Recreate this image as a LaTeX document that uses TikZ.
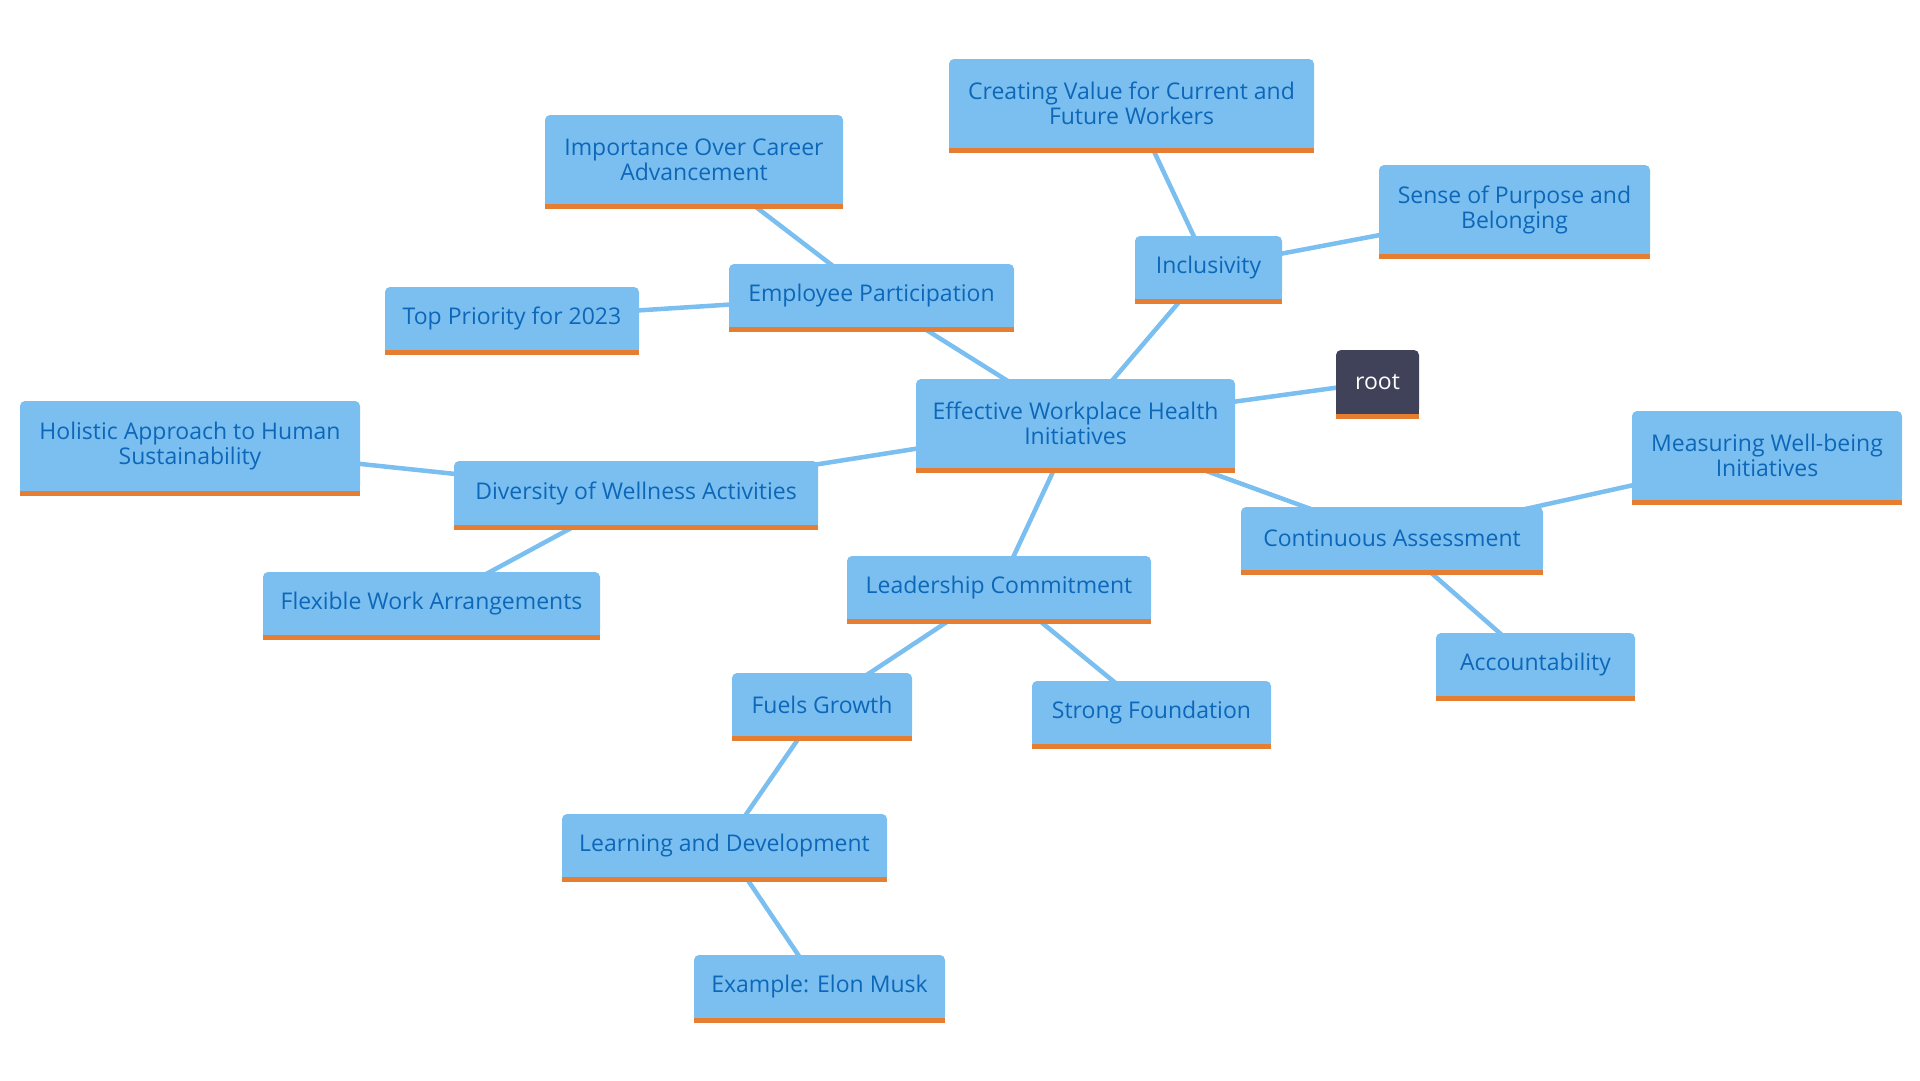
\documentclass[tikz,border=0pt]{standalone}
\usepackage{fontspec}
\setmainfont{Open Sans}
\usetikzlibrary{backgrounds}
\definecolor{boxblue}{HTML}{7BBFF0}
\definecolor{txtblue}{HTML}{0D67B8}
\definecolor{barorange}{HTML}{E57E30}
\definecolor{rootfill}{HTML}{3F4259}
\tikzset{
  box/.style={rectangle, fill=boxblue, rounded corners=5pt, text=txtblue, align=center,
    font=\fontsize{23}{25}\selectfont, inner sep=0pt},
  rootbox/.style={box, fill=rootfill, text=white},
  link/.style={draw=boxblue, line width=4.5pt},
}
\newcommand{\mybox}[7][box]{%
  \node[#1, minimum width=#4pt, minimum height={(#5-5)*1pt}] (#2) at ({(#3+#4/2)}, {(#6+(#5-5)/2)}) {#7};
  \fill[#1, rounded corners=0pt] ([yshift=6pt]#2.south west) rectangle (#2.south east);
  \fill[barorange] (#2.south west) rectangle ([yshift=-5pt]#2.south east);
}
\begin{document}
\begin{tikzpicture}[x=1pt,y=-1pt]
\useasboundingbox (0,0) rectangle (1920,1080);
% \mybox[style]{name}{left}{width}{height}{top}{text}
\mybox{creating}{949}{365}{94}{59}{Creating Value for Current and\\Future Workers}
\mybox{importance}{545}{298}{94}{115}{Importance Over Career\\Advancement}
\mybox{sense}{1379}{271}{94}{165}{Sense of Purpose and\\Belonging}
\mybox{inclusivity}{1135}{147}{68}{236}{Inclusivity}
\mybox{employee}{729}{285}{68}{264}{Employee Participation}
\mybox{toppriority}{385}{254}{68}{287}{Top Priority for 2023}
\mybox{effective}{916}{319}{94}{379}{Effective Workplace Health\\Initiatives}
\mybox[rootbox]{root}{1336}{83}{69}{350}{root}
\mybox{holistic}{20}{340}{95}{401}{Holistic Approach to Human\\Sustainability}
\mybox{diversity}{454}{364}{69}{461}{Diversity of Wellness Activities}
\mybox{measuring}{1632}{270}{94}{411}{Measuring Well-being\\Initiatives}
\mybox{continuous}{1241}{302}{68}{507}{Continuous Assessment}
\mybox{leadership}{847}{304}{68}{556}{Leadership Commitment}
\mybox{flexible}{263}{337}{68}{572}{Flexible Work Arrangements}
\mybox{accountability}{1436}{199}{68}{633}{Accountability}
\mybox{fuels}{732}{180}{68}{673}{Fuels Growth}
\mybox{strong}{1032}{239}{68}{681}{Strong Foundation}
\mybox{learning}{562}{325}{68}{814}{Learning and Development}
\mybox{example}{694}{251}{68}{955}{Example: Elon Musk}
\begin{scope}[on background layer]
\draw[link] (root.center) -- (effective.center);
\draw[link] (effective.center) -- (inclusivity.center);
\draw[link] (effective.center) -- (employee.center);
\draw[link] (effective.center) -- (diversity.center);
\draw[link] (effective.center) -- (leadership.center);
\draw[link] (effective.center) -- (continuous.center);
\draw[link] (inclusivity.center) -- (creating.center);
\draw[link] (inclusivity.center) -- (sense.center);
\draw[link] (employee.center) -- (importance.center);
\draw[link] (employee.center) -- (toppriority.center);
\draw[link] (diversity.center) -- (holistic.center);
\draw[link] (diversity.center) -- (flexible.center);
\draw[link] (leadership.center) -- (fuels.center);
\draw[link] (leadership.center) -- (strong.center);
\draw[link] (fuels.center) -- (learning.center);
\draw[link] (learning.center) -- (example.center);
\draw[link] (continuous.center) -- (measuring.center);
\draw[link] (continuous.center) -- (accountability.center);
\end{scope}
\end{tikzpicture}
\end{document}
